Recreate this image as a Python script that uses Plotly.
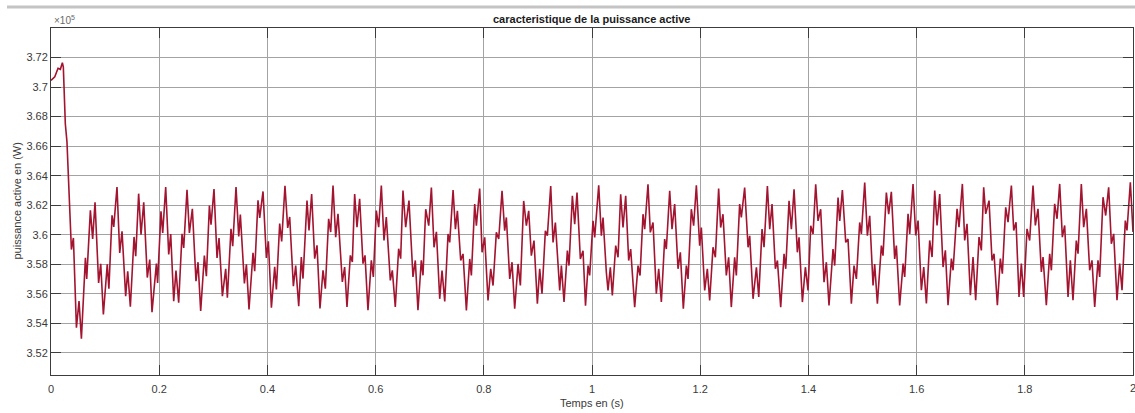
import plotly.graph_objects as go

# ---- data (time in s, active power in x10^5 W) ----
time_s = [
    0.000, 0.007, 0.013, 0.0173, 0.021, 0.0228, 0.0265, 0.0295, 0.0377, 0.0414,
    0.047, 0.0518, 0.0562, 0.0636, 0.066, 0.0728, 0.077, 0.0814, 0.088, 0.0919,
    0.0968, 0.104, 0.107, 0.1128, 0.116, 0.122, 0.127, 0.1313, 0.138, 0.1418,
    0.1467, 0.1535, 0.1566, 0.162, 0.1664, 0.1714, 0.178, 0.1825, 0.1867, 0.1948,
    0.197, 0.2033, 0.2065, 0.212, 0.2176, 0.2213, 0.2268, 0.231, 0.236, 0.2422,
    0.2453, 0.2514, 0.2558, 0.2613, 0.268, 0.2718, 0.2767, 0.2835, 0.2872, 0.2928,
    0.2958, 0.3013, 0.3069, 0.3106, 0.3168, 0.3229, 0.326, 0.3327, 0.3359, 0.342,
    0.347, 0.350, 0.3575, 0.3612, 0.366, 0.3734, 0.3765, 0.3826, 0.3858, 0.3919,
    0.3981, 0.4018, 0.4074, 0.4135, 0.4166, 0.4227, 0.4264, 0.4325, 0.4375, 0.4412,
    0.448, 0.4523, 0.4579,
    0.4627, 0.4658, 0.4732, 0.4769, 0.4818, 0.4874, 0.4917, 0.4972, 0.5028, 0.5071,
    0.5132, 0.5170, 0.5213, 0.5262, 0.5305, 0.5385, 0.5428, 0.5471, 0.5533, 0.5570,
    0.5613, 0.5656, 0.5705, 0.5767, 0.5804, 0.5859, 0.5921, 0.5958, 0.6013, 0.6057,
    0.6106, 0.6155, 0.6198, 0.6272, 0.6309, 0.6364, 0.6426, 0.6463, 0.6506, 0.6556,
    0.6617, 0.6691, 0.6734, 0.6783, 0.6845, 0.6876,
    0.6926, 0.6982, 0.7031, 0.7080, 0.7124, 0.7185, 0.7228, 0.7278, 0.7339, 0.7370,
    0.7432, 0.7475, 0.7512, 0.7573, 0.7616, 0.7678, 0.7740, 0.7770, 0.7832, 0.7863,
    0.7924, 0.7968, 0.8017, 0.8078, 0.8128, 0.8171, 0.8232, 0.8276, 0.8337, 0.8386,
    0.8417, 0.8479, 0.8522, 0.8571, 0.8633, 0.8676, 0.8737, 0.8787, 0.8830, 0.8879,
    0.8928, 0.8990, 0.9033, 0.9076, 0.9138, 0.9175, 0.9237, 0.9280, 0.9323, 0.9403,
    0.9434, 0.9483, 0.9545, 0.9575, 0.9637, 0.9680, 0.9723, 0.9785, 0.9834,
    0.9880, 0.9927, 0.9957, 1.0019, 1.0050, 1.0124, 1.0173, 1.0204, 1.0265, 1.0296,
    1.0339, 1.0376, 1.0438, 1.0481, 1.0530, 1.0573, 1.0623, 1.0678, 1.0715, 1.0789,
    1.0851, 1.0888, 1.0943, 1.0974, 1.1035, 1.1078, 1.1128, 1.1189, 1.1233, 1.1282,
    1.1343, 1.1374, 1.1436, 1.1479, 1.1528, 1.1590, 1.1633, 1.1688, 1.1744, 1.1775,
    1.1836, 1.1879, 1.1929, 1.1990, 1.2021, 1.2083, 1.2132, 1.2175, 1.2237, 1.2280,
    1.2341, 1.2378, 1.2421, 1.2483, 1.2526, 1.2575, 1.2637, 1.2668, 1.2729, 1.2760,
    1.2822,
    1.2885, 1.2915, 1.2977, 1.3039, 1.3082, 1.3143, 1.3180, 1.3242, 1.3285, 1.3328,
    1.3390, 1.3427, 1.3488, 1.3550, 1.3581, 1.3642, 1.3685, 1.3735, 1.3796, 1.3827,
    1.3889, 1.3944, 1.3993, 1.4043, 1.4086, 1.4135, 1.4178, 1.4227, 1.4289, 1.4332,
    1.4381, 1.4455, 1.4486, 1.4548, 1.4579, 1.4628, 1.4690, 1.4732, 1.4794, 1.4843,
    1.4887, 1.4948, 1.4979, 1.5041, 1.5090, 1.5133, 1.5195, 1.5225, 1.5275, 1.5349,
    1.5379, 1.5441, 1.5484, 1.5533, 1.5595, 1.5626, 1.5687,
    1.5750, 1.5780, 1.5842, 1.5873, 1.5934, 1.5984, 1.6027, 1.6088, 1.6132, 1.6181,
    1.6242, 1.6286, 1.6335, 1.6378, 1.6427, 1.6489, 1.6532, 1.6581, 1.6643, 1.6674,
    1.6748, 1.6784, 1.6846, 1.6889, 1.6932, 1.6994, 1.7043, 1.7092, 1.7154, 1.7197,
    1.7240, 1.7277, 1.7339, 1.7394, 1.7431, 1.7493, 1.7548, 1.7585, 1.7647, 1.7690,
    1.7752, 1.7795, 1.7838, 1.7893, 1.7936, 1.7979, 1.8041, 1.8090, 1.8152, 1.8195,
    1.8244, 1.8306, 1.8337, 1.8398, 1.8460, 1.8491, 1.8552, 1.8596, 1.8645, 1.8694,
    1.8737, 1.8799, 1.8842, 1.8891, 1.8952, 1.8984, 1.9045, 1.9088, 1.9138, 1.9199,
    1.9242, 1.9292, 1.9353, 1.9384, 1.9446, 1.9495, 1.9550, 1.9600, 1.9643, 1.9704,
    1.9754, 1.9797, 1.9858, 1.9889, 1.9951, 2.0000,
]

power_1e5 = [
    3.7045, 3.7070, 3.7127, 3.7120, 3.7165, 3.7135, 3.6750, 3.6630, 3.5900, 3.5978,
    3.5370, 3.5550, 3.5296, 3.5843, 3.5700, 3.6165, 3.5972, 3.6219, 3.5674, 3.5803,
    3.5460, 3.5800, 3.5634, 3.6131, 3.6053, 3.6323, 3.5877, 3.6023, 3.5584, 3.5753,
    3.5512, 3.5985, 3.5854, 3.6278, 3.6000, 3.6219, 3.5710, 3.5832, 3.5476, 3.5805,
    3.5674, 3.6158, 3.6012, 3.6323, 3.5866, 3.6004, 3.5550, 3.5757, 3.5539, 3.6006,
    3.5911, 3.6305, 3.6012, 3.6176, 3.5685, 3.5814, 3.5483, 3.5859, 3.5719, 3.6197,
    3.6068, 3.6309, 3.5843, 3.5978, 3.5584, 3.5769, 3.5573, 3.6040, 3.5922, 3.6323,
    3.5989, 3.6136, 3.5670, 3.5800, 3.5494, 3.5877, 3.5753, 3.6233, 3.6114, 3.6293,
    3.5843, 3.5955, 3.5505, 3.5782, 3.5629, 3.6075, 3.5955, 3.6332, 3.6046, 3.6120,
    3.5651, 3.5791, 3.5516,
    3.5849, 3.5703, 3.6231, 3.6029, 3.6276, 3.5838, 3.5928, 3.5500, 3.5759, 3.5635,
    3.6108, 3.6018, 3.6333, 3.5984, 3.6141, 3.5680, 3.5781, 3.5511, 3.5860, 3.5815,
    3.6276, 3.6051, 3.6243, 3.5804, 3.5860, 3.5489, 3.5826, 3.5714, 3.6164, 3.6051,
    3.6333, 3.5961, 3.6119, 3.5691, 3.5759, 3.5511, 3.5905, 3.5838, 3.6299, 3.6051,
    3.6231, 3.5714, 3.5826, 3.5489, 3.5826, 3.5725,
    3.6173, 3.6061, 3.6319, 3.5915, 3.6020, 3.5566, 3.5757, 3.5548, 3.6005, 3.5948,
    3.6303, 3.6038, 3.6162, 3.5825, 3.5870, 3.5488, 3.5836, 3.5724, 3.6207, 3.6061,
    3.6312, 3.5881, 3.5982, 3.5555, 3.5769, 3.5656, 3.6016, 3.5971, 3.6297, 3.6027,
    3.6117, 3.5701, 3.5814, 3.5499, 3.5802, 3.5656, 3.6229, 3.6061, 3.6162, 3.5858,
    3.5960, 3.5533, 3.5769, 3.5600, 3.6027, 3.5993, 3.6330, 3.5948, 3.6083, 3.5623,
    3.5791, 3.5544, 3.5892, 3.5791, 3.6263, 3.6072, 3.6285, 3.5836, 3.5892,
    3.5520, 3.5791, 3.5724, 3.6094, 3.5982, 3.6335, 3.5993, 3.6117, 3.5746, 3.5623,
    3.5780, 3.5589, 3.5926, 3.5847, 3.6274, 3.6049, 3.6263, 3.5825, 3.5903, 3.5510,
    3.5791, 3.5724, 3.6139, 3.6038, 3.6342, 3.6016, 3.6083, 3.5600, 3.5769, 3.5544,
    3.5971, 3.5903, 3.6297, 3.6038, 3.6207, 3.5769, 3.5881, 3.5499, 3.5791, 3.5701,
    3.6173, 3.6061, 3.6335, 3.5926, 3.6049, 3.5623, 3.5769, 3.5555, 3.5915, 3.5847,
    3.6312, 3.6049, 3.6139, 3.5724, 3.5847, 3.5510, 3.5847, 3.5724, 3.6207, 3.6117,
    3.6319,
    3.5915, 3.5993, 3.5566, 3.5780, 3.5578, 3.6038, 3.5915, 3.6330, 3.6038, 3.6207,
    3.5769, 3.5825, 3.5510, 3.5870, 3.5769, 3.6229, 3.6038, 3.6308, 3.5881, 3.5982,
    3.5544, 3.5780, 3.5623, 3.6061, 3.6005, 3.6342, 3.6094, 3.6173, 3.5679, 3.5814,
    3.5521, 3.5903, 3.5791, 3.6252, 3.6094, 3.6303, 3.5948, 3.5971, 3.5533, 3.5791,
    3.5701, 3.6083, 3.6005, 3.6353, 3.5993, 3.6128, 3.5656, 3.5802, 3.5533, 3.5926,
    3.5858, 3.6285, 3.6139, 3.6290, 3.5836, 3.5926, 3.5521,
    3.5804, 3.5714, 3.6141, 3.6006, 3.6344, 3.5995, 3.6096, 3.5624, 3.5781, 3.5534,
    3.5961, 3.5849, 3.6299, 3.6063, 3.6276, 3.5781, 3.5894, 3.5523, 3.5838, 3.5759,
    3.6175, 3.6051, 3.6344, 3.5961, 3.6074, 3.5590, 3.5849, 3.5556, 3.5984, 3.5894,
    3.6321, 3.6141, 3.6231, 3.5826, 3.5871, 3.5523, 3.5838, 3.5736, 3.6186, 3.6085,
    3.6333, 3.6029, 3.6085, 3.5579, 3.5804, 3.5579, 3.6040, 3.5961, 3.6333, 3.6063,
    3.6175, 3.5748, 3.5849, 3.5523, 3.5871, 3.5759, 3.6209, 3.6108, 3.6344, 3.5984,
    3.6063, 3.5579, 3.5826, 3.5556, 3.5961, 3.5871, 3.6344, 3.6051, 3.6175, 3.5759,
    3.5826, 3.5511, 3.5826, 3.5714, 3.6254, 3.6130, 3.6321, 3.5939, 3.6006, 3.5556,
    3.5804, 3.5624, 3.6096, 3.6029, 3.6355, 3.6018,
]

x_tick_vals = [0, 0.2, 0.4, 0.6, 0.8, 1.0, 1.2, 1.4, 1.6, 1.8, 2.0]
x_tick_text = ["0", "0.2", "0.4", "0.6", "0.8", "1", "1.2", "1.4", "1.6", "1.8", "2"]
y_tick_vals = [3.52, 3.54, 3.56, 3.58, 3.60, 3.62, 3.64, 3.66, 3.68, 3.70, 3.72]
y_tick_text = ["3.52", "3.54", "3.56", "3.58", "3.6", "3.62", "3.64", "3.66", "3.68", "3.7", "3.72"]

title_text = "caracteristique de la puissance active"
x_title = "Temps en (s)"
y_title = "puissance active en (W)"

# ---- layout constants ----
W, H = 1135, 413
ML, MR, MT, MB = 51, 2, 28, 38
PW, PH = W - ML - MR, H - MT - MB
FONT = "Liberation Sans, Arial, Helvetica, sans-serif"
LINE_COLOR = "#A2142F"
GRID = "#a3a3a3"
AXIS = "#3c3c3c"
TXT = "#3a3a3a"
XLABEL_PY = 388  # vertical centre of the x tick labels, in pixels


def px_to_paper_x(px):
    return (px - ML) / PW


def py_to_paper_y(py):
    return (H - MB - py) / PH


fig = go.Figure()
fig.add_trace(go.Scatter(
    x=time_s, y=power_1e5, mode="lines",
    line=dict(color=LINE_COLOR, width=1.6),
    showlegend=False, hoverinfo="skip",
))

axis_common = dict(
    showgrid=True, gridcolor=GRID, gridwidth=1,
    showline=True, linecolor=AXIS, linewidth=1, mirror="ticks",
    ticks="inside", ticklen=10, tickcolor=AXIS, tickwidth=1,
    zeroline=False,
    tickfont=dict(family=FONT, size=11, color=TXT),
)

fig.update_layout(
    width=W, height=H, autosize=False,
    margin=dict(l=ML, r=MR, t=MT, b=MB, pad=0),
    paper_bgcolor="white", plot_bgcolor="white",
    xaxis=dict(range=[0, 2], tickvals=x_tick_vals[:-1], ticktext=x_tick_text[:-1],
               ticklabelstandoff=4, **axis_common),
    yaxis=dict(range=[3.505, 3.74], tickvals=y_tick_vals, ticktext=y_tick_text, **axis_common),
    font=dict(family=FONT, color=TXT),
)

ann = [
    dict(text="<b>" + title_text + "</b>", x=0.5, y=py_to_paper_y(19), xref="paper", yref="paper",
         xanchor="center", yanchor="middle", showarrow=False,
         font=dict(family=FONT, size=11, color="#1a1a1a")),
    dict(text=x_title, x=0.5, y=py_to_paper_y(403), xref="paper", yref="paper",
         xanchor="center", yanchor="middle", showarrow=False,
         font=dict(family=FONT, size=11, color=TXT)),
    dict(text=y_title, x=px_to_paper_x(16), y=0.5, xref="paper", yref="paper",
         xanchor="center", yanchor="middle", textangle=-90, showarrow=False,
         font=dict(family=FONT, size=11, color=TXT)),
    dict(text="×10<sup>5</sup>", x=px_to_paper_x(52), y=py_to_paper_y(20), xref="paper", yref="paper",
         xanchor="left", yanchor="middle", showarrow=False,
         font=dict(family=FONT, size=10, color="#6a6a6a")),
    # last x tick label, at the very right edge (partly cut, as in the reference)
    dict(text=x_tick_text[-1], x=x_tick_vals[-1], y=py_to_paper_y(XLABEL_PY), xref="x", yref="paper",
         xanchor="center", yanchor="middle", showarrow=False,
         font=dict(family=FONT, size=11, color=TXT)),
]
fig.update_layout(annotations=ann)

# light grey band at the very top of the screenshot
fig.add_shape(type="line", xref="paper", yref="paper",
              x0=px_to_paper_x(7), x1=px_to_paper_x(1135), y0=py_to_paper_y(7), y1=py_to_paper_y(7),
              line=dict(color="#c4c4c4", width=3))

fig.write_html("out.html")
